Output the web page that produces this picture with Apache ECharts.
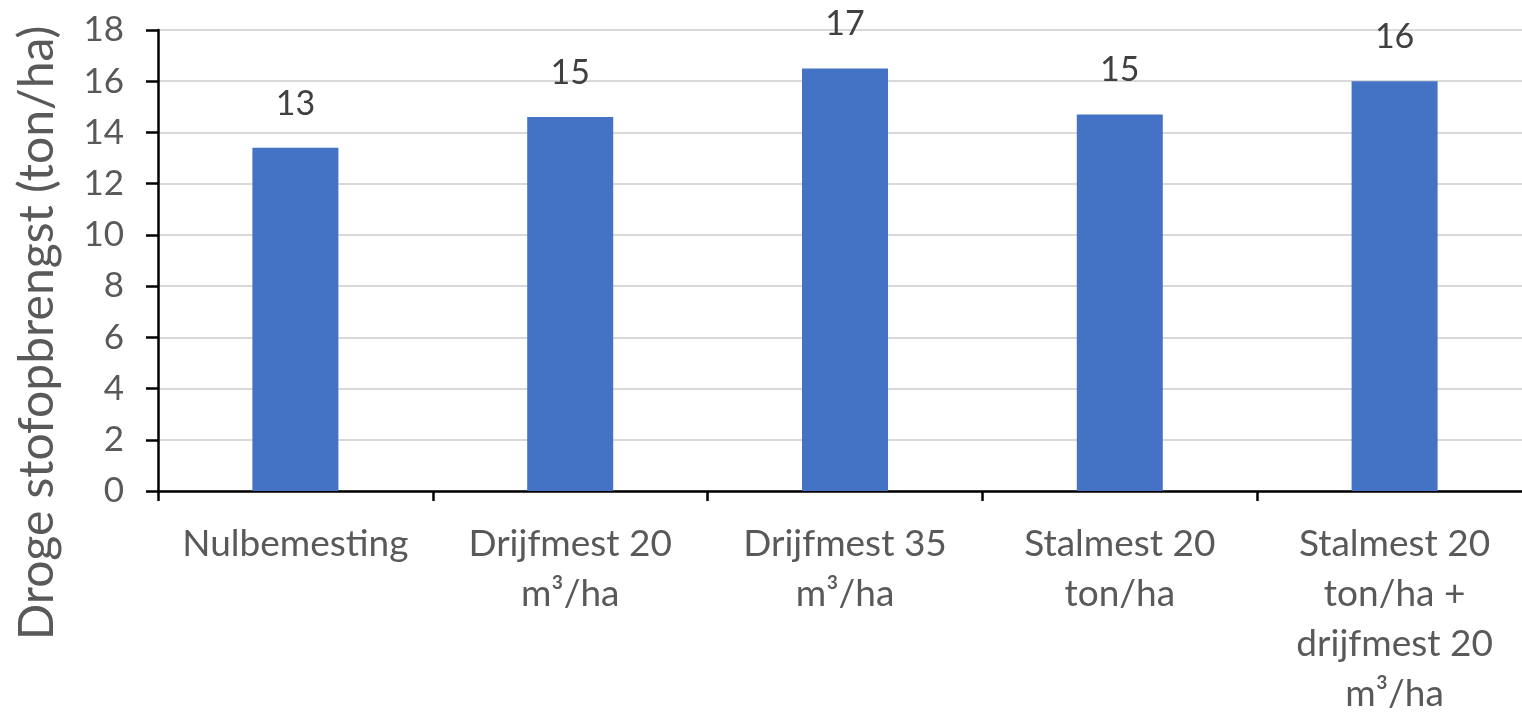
<!DOCTYPE html>
<html>
<head>
<meta charset="utf-8">
<script src="https://cdn.jsdelivr.net/npm/echarts@6/dist/echarts.min.js"></script>
<style>
  html, body { margin: 0; padding: 0; background: #fff; overflow: hidden; }
  #chart { width: 1522px; height: 715px; }
</style>
</head>
<body>
<div id="chart"></div>
<script>
// Dry matter yield per fertilisation treatment
const categories = [
  'Nulbemesting',
  'Drijfmest 20\nm³/ha',
  'Drijfmest 35\nm³/ha',
  'Stalmest 20\nton/ha',
  'Stalmest 20\nton/ha +\ndrijfmest 20\nm³/ha'
];
const yieldValues = [13.4, 14.6, 16.5, 14.7, 16.0];
const yTicks = { min: 0, max: 18, interval: 2 };
const yAxisTitle = 'Droge stofopbrengst (ton/ha)';

const FONT = 'Lato, "Open Sans", sans-serif';
const chart = echarts.init(document.getElementById('chart'), null, { renderer: 'canvas' });

chart.setOption({
  backgroundColor: '#ffffff',
  animation: false,
  grid: {
    left: 158, top: 30, height: 461, width: 1374,
    containLabel: false,
    outerBoundsMode: 'none'
  },
  xAxis: {
    type: 'category',
    data: categories,
    axisLine: { lineStyle: { color: '#000', width: 2.5 } },
    axisTick: { show: true, length: 10, lineStyle: { color: '#000', width: 2.5 } },
    axisLabel: {
      interval: 0,
      margin: 28,
      color: '#595959',
      fontFamily: FONT,
      fontSize: 37,
      lineHeight: 50
    }
  },
  yAxis: {
    type: 'value',
    min: yTicks.min,
    max: yTicks.max,
    interval: yTicks.interval,
    axisLine: { show: true, lineStyle: { color: '#000', width: 2.5 } },
    axisTick: { show: true, length: 12, lineStyle: { color: '#000', width: 2.5 } },
    axisLabel: {
      margin: 34,
      color: '#595959',
      fontFamily: FONT,
      fontSize: 35
    },
    splitLine: { lineStyle: { color: '#d9d9d9', width: 2 } }
  },
  series: [{
    type: 'bar',
    data: yieldValues,
    barWidth: 86,
    itemStyle: { color: '#4472C4' },
    label: {
      show: true,
      position: 'top',
      distance: 27,
      color: '#404040',
      fontFamily: FONT,
      fontSize: 34,
      formatter: p => String(Math.round(p.value))
    }
  }],
  graphic: [{
    type: 'text',
    x: 38,
    y: 333,
    rotation: Math.PI / 2,
    style: {
      text: yAxisTitle,
      fill: '#595959',
      font: '48px ' + FONT,
      align: 'center',
      verticalAlign: 'middle'
    }
  }]
});
</script>
</body>
</html>
